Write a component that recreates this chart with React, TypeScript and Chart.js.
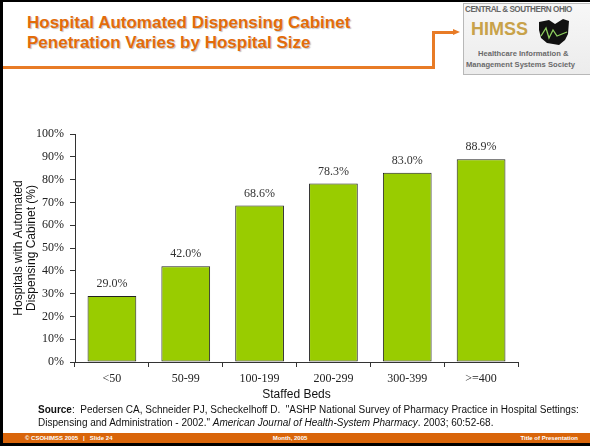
import React, { useEffect, useRef } from "react";
import { Chart, registerables } from "chart.js";

Chart.register(...registerables);

const categories = ["<50", "50-99", "100-199", "200-299", "300-399", ">=400"];
const penetration = [29.0, 42.0, 68.6, 78.3, 83.0, 88.9];
const yTicks = [0, 10, 20, 30, 40, 50, 60, 70, 80, 90, 100];

const SERIF = "'Liberation Serif', 'Times New Roman', serif";
const SANS = "'Liberation Sans', Arial, sans-serif";

const valueLabels = {
  id: "valueLabels",
  afterDatasetsDraw(chart: any) {
    const { ctx } = chart;
    const meta = chart.getDatasetMeta(0);
    ctx.save();
    ctx.font = `12px ${SERIF}`;
    ctx.fillStyle = "#333";
    ctx.textAlign = "center";
    ctx.textBaseline = "middle";
    meta.data.forEach((bar: any, i: number) => {
      const v = chart.data.datasets[0].data[i] as number;
      ctx.fillText(v.toFixed(1) + "%", bar.x, bar.y - 12);
    });
    ctx.restore();
  },
};

function ChartBox() {
  const ref = useRef<HTMLCanvasElement | null>(null);
  useEffect(() => {
    if (!ref.current) return;
    const chart = new Chart(ref.current, {
      type: "bar",
      data: {
        labels: categories,
        datasets: [
          {
            data: penetration,
            backgroundColor: "#99CC00",
            borderColor: "#222",
            borderWidth: 1,
            borderSkipped: false,
            barPercentage: 0.66,
            categoryPercentage: 1,
          },
        ],
      },
      options: {
        animation: false,
        responsive: false,
        maintainAspectRatio: false,
        layout: { padding: { top: 34, right: 72, left: 0, bottom: 0 } },
        plugins: { legend: { display: false }, tooltip: { enabled: false } },
        scales: {
          x: {
            offset: true,
            afterFit: (s: any) => {
              s.height = 48;
            },
            grid: {
              offset: true,
              drawOnChartArea: false,
              tickLength: 5,
              color: "#333",
            },
            border: { color: "#333", width: 1 },
            ticks: {
              color: "#222",
              padding: 5,
              font: { family: SERIF, size: 12 },
              maxRotation: 0,
            },
            title: {
              display: true,
              text: "Staffed Beds",
              color: "#111",
              font: { family: SANS, size: 12 },
              padding: { top: 0, bottom: 8 },
            },
          },
          y: {
            min: 0,
            max: 100,
            afterFit: (s: any) => {
              s.width = 75;
            },
            afterBuildTicks: (s: any) => {
              s.ticks = yTicks.map((v) => ({ value: v }));
            },
            grid: {
              drawOnChartArea: false,
              tickLength: 5,
              color: "#333",
            },
            border: { color: "#333", width: 1 },
            ticks: {
              color: "#222",
              padding: 6,
              font: { family: SERIF, size: 12 },
              callback: (v: any) => v + "%",
            },
            title: {
              display: true,
              text: ["Hospitals with Automated", "Dispensing Cabinet (%)"],
              color: "#111",
              font: { family: SANS, size: 12, lineHeight: 1.08 },
              padding: { top: 12.5, bottom: 0 },
            },
          },
        },
      },
      plugins: [valueLabels],
    });
    return () => chart.destroy();
  }, []);
  return (
    <canvas
      ref={ref}
      width={590}
      height={310}
      style={{ position: "absolute", left: 0, top: 100, width: 590, height: 310 }}
    />
  );
}

function Logo() {
  return (
    <div
      style={{
        position: "absolute",
        left: 463,
        top: 3,
        width: 135,
        height: 70,
        border: "1px solid #b8b8b8",
        background: "linear-gradient(#f7f7f7, #ececec)",
        overflow: "hidden",
        fontFamily: SANS,
      }}
    >
      <div
        style={{
          position: "absolute",
          left: 1,
          top: 0,
          fontSize: 9,
          fontWeight: "bold",
          color: "#666",
          whiteSpace: "nowrap",
          letterSpacing: -0.5,
          transform: "scaleX(0.9)",
          transformOrigin: "left",
        }}
      >
        CENTRAL &amp; SOUTHERN OHIO
      </div>
      <div
        style={{
          position: "absolute",
          left: 7,
          top: 15,
          fontSize: 18,
          fontWeight: "bold",
          color: "#C8A24A",
          fontFamily: SANS,
        }}
      >
        HIMSS
      </div>
      <svg style={{ position: "absolute", left: 72, top: 14, width: 36, height: 28 }} width={36} height={28} viewBox="0 0 34 28">
        <polygon points="2,4 12,2 18,6 26,1 32,3 31,16 28,22 22,27 10,25 4,20 2,12" fill="#111" />
        <polyline points="4,18 9,10 12,20 16,12 20,18 30,14" fill="none" stroke="#8fcf5f" strokeWidth={1.3} />
      </svg>
      <div
        style={{
          position: "absolute",
          left: 14,
          top: 45,
          fontSize: 8,
          fontWeight: "bold",
          color: "#6a6a6a",
          whiteSpace: "nowrap",
          transform: "scaleX(0.95)",
          transformOrigin: "left",
        }}
      >
        Healthcare Information &amp;
      </div>
      <div
        style={{
          position: "absolute",
          left: 2,
          top: 56,
          fontSize: 8,
          fontWeight: "bold",
          color: "#6a6a6a",
          whiteSpace: "nowrap",
          transform: "scaleX(0.95)",
          transformOrigin: "left",
        }}
      >
        Management Systems Society
      </div>
    </div>
  );
}

export default function App() {
  return (
    <div
      style={{
        position: "absolute",
        left: 0,
        top: 0,
        width: 590,
        height: 446,
        background: "#fff",
        overflow: "hidden",
        fontFamily: SANS,
      }}
    >
      {/* frame */}
      <div style={{ position: "absolute", left: 0, top: 0, width: 590, height: 2, background: "#000" }} />
      <div style={{ position: "absolute", left: 0, top: 0, width: 3, height: 446, background: "#000" }} />
      {/* title */}
      <div
        style={{
          position: "absolute",
          left: 27,
          top: 13,
          fontSize: 17,
          lineHeight: "20px",
          fontWeight: "bold",
          color: "#E36C0A",
          textShadow: "1px 1px 1px rgba(0,0,0,0.25)",
          whiteSpace: "nowrap",
        }}
      >
        Hospital Automated Dispensing Cabinet
        <br />
        Penetration Varies by Hospital Size
      </div>
      {/* orange connector line */}
      <div style={{ position: "absolute", left: 3, top: 66, width: 432, height: 2.5, background: "#E87B26" }} />
      <div style={{ position: "absolute", left: 432, top: 31, width: 2.5, height: 37, background: "#E87B26" }} />
      <div style={{ position: "absolute", left: 432, top: 31, width: 22, height: 2.5, background: "#E87B26" }} />
      <div
        style={{
          position: "absolute",
          left: 453,
          top: 28.5,
          width: 0,
          height: 0,
          borderTop: "3.75px solid transparent",
          borderBottom: "3.75px solid transparent",
          borderLeft: "7px solid #E87B26",
        }}
      />
      <Logo />
      <ChartBox />
      {/* source */}
      <div
        style={{
          position: "absolute",
          left: 38,
          top: 403,
          fontSize: 10,
          lineHeight: "13px",
          color: "#111",
          whiteSpace: "nowrap",
        }}
      >
        <b>Source</b>: &nbsp;Pedersen CA, Schneider PJ, Scheckelhoff D. &nbsp;"ASHP National Survey of Pharmacy Practice in Hospital Settings:
        <br />
        Dispensing and Administration - 2002." <i>American Journal of Health-System Pharmacy</i>. 2003; 60:52-68.
      </div>
      {/* footer */}
      <div style={{ position: "absolute", left: 3, top: 433, width: 587, height: 10, background: "#D9650A" }} />
      <div style={{ position: "absolute", left: 0, top: 443, width: 590, height: 3, background: "#000" }} />
      <div
        style={{
          position: "absolute",
          left: 25,
          top: 434,
          fontSize: 6,
          lineHeight: "8px",
          fontWeight: "bold",
          color: "#fff",
          whiteSpace: "pre",
        }}
      >
        {"© CSOHIMSS 2005   |   Slide 24"}
      </div>
      <div
        style={{
          position: "absolute",
          left: 240,
          width: 100,
          textAlign: "center",
          top: 434,
          fontSize: 6,
          lineHeight: "8px",
          fontWeight: "bold",
          color: "#fff",
        }}
      >
        Month, 2005
      </div>
      <div
        style={{
          position: "absolute",
          right: 12,
          top: 434,
          fontSize: 6,
          lineHeight: "8px",
          fontWeight: "bold",
          color: "#fff",
        }}
      >
        Title of Presentation
      </div>
    </div>
  );
}
